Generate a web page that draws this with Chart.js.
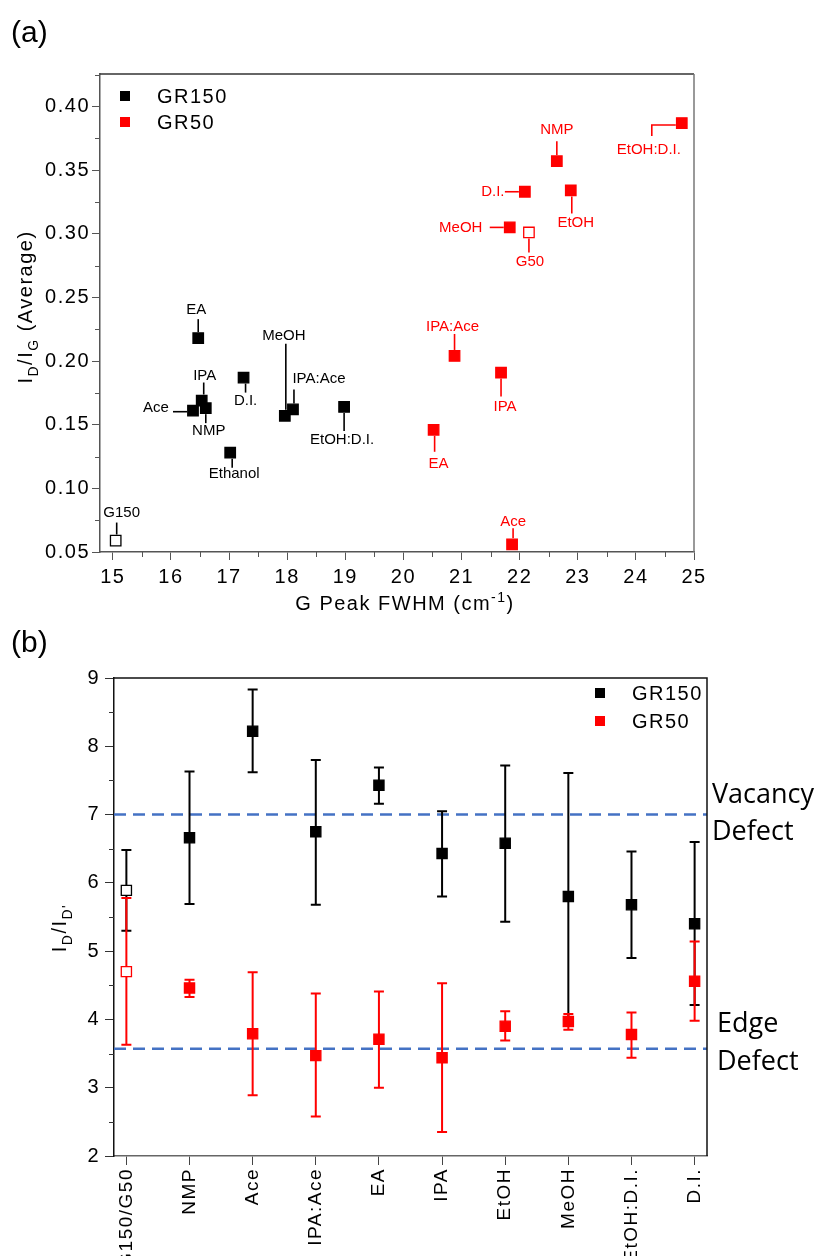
<!DOCTYPE html>
<html>
<head>
<meta charset="utf-8">
<script src="https://cdn.jsdelivr.net/npm/chart.js@4.4.1/dist/chart.umd.min.js"></script>
<style>
  body { margin: 0; background: #fff; width: 818px; height: 1256px; overflow: hidden; position: relative; }
  canvas { position: absolute; left: 0; }
  #chartA { top: 0; }
  #chartB { top: 625px; }
</style>
</head>
<body>
<canvas id="chartA" width="818" height="625"></canvas>
<canvas id="chartB" width="818" height="631"></canvas>
<script>
const FONT = 'Arial, "Liberation Sans", sans-serif';

// ---- (a) ID/IG vs G peak FWHM ----
const namesGR150 = ['G150', 'Ace', 'EA', 'IPA', 'NMP', 'D.I.', 'Ethanol', 'MeOH', 'IPA:Ace', 'EtOH:D.I.'];
const fwhmGR150  = [15.05, 16.38, 16.47, 16.53, 16.60, 17.25, 17.02, 17.96, 18.10, 18.98];
const idigGR150  = [0.059, 0.161, 0.218, 0.169, 0.163, 0.187, 0.128, 0.157, 0.162, 0.164];

const namesGR50 = ['G50', 'NMP', 'EtOH:D.I.', 'D.I.', 'EtOH', 'MeOH', 'IPA:Ace', 'IPA', 'EA', 'Ace'];
const fwhmGR50  = [22.16, 22.64, 24.79, 22.09, 22.88, 21.83, 20.88, 21.68, 20.52, 21.87];
const idigGR50  = [0.301, 0.357, 0.387, 0.333, 0.334, 0.305, 0.204, 0.191, 0.146, 0.056];

const xTicksA = [15, 16, 17, 18, 19, 20, 21, 22, 23, 24, 25];
const yTicksA = [0.05, 0.10, 0.15, 0.20, 0.25, 0.30, 0.35, 0.40];

// unfilled markers = pristine graphite references
const openSamples = ['G150', 'G50', 'G150/G50'];

// label placement relative to the marker (text centre, leader line points)
const textOffGR150 = [[6,-28],[-37,-3],[-2,-28],[3,-25],[3,23],[2,23],[4,21],[-1,-80],[26,-31],[-2,33]];
const leaderGR150 = [
  [[1,-6],[1,-18]], [[-6,1],[-20,1]], [[0,-6],[0,-19]], [[2,-6],[2,-18]], [[0,6],[0,15]],
  [[2,6],[2,15]], [[2,6],[2,15]], [[1,-6],[1,-72]], [[1,-6],[1,-20]], [[0,6],[0,24]]
];
const textOffGR50 = [[1,29],[0,-31],[-33,27],[-32,0],[5,32],[-49,0],[-2,-29],[4,34],[5,34],[1,-23]];
const leaderGR50 = [
  [[0,6],[0,20]], [[0,-6],[0,-20]], [[-6,2],[-30,2],[-30,13]], [[-6,0],[-20,0]], [[1,6],[1,23]],
  [[-6,0],[-20,0]], [[0,-6],[0,-22]], [[0,6],[0,24]], [[1,6],[1,22]], [[1,-6],[1,-16]]
];

// ---- (b) ID/ID' per solvent ----
const solvents  = ['G150/G50', 'NMP', 'Ace', 'IPA:Ace', 'EA', 'IPA', 'EtOH', 'MeOH', 'EtOH:D.I.', 'D.I.'];
const ratioB150 = [5.89, 6.66, 8.22, 6.75, 7.43, 6.43, 6.58, 5.80, 5.68, 5.40];
const hiB150    = [6.48, 7.63, 8.83, 7.80, 7.69, 7.05, 7.72, 7.61, 6.46, 6.60];
const loB150    = [5.30, 5.69, 7.62, 5.68, 7.16, 5.80, 5.43, 4.00, 4.90, 4.21];
const ratioB50  = [4.70, 4.46, 3.79, 3.47, 3.71, 3.44, 3.90, 3.97, 3.78, 4.56];
const hiB50     = [5.78, 4.58, 4.69, 4.38, 4.41, 4.53, 4.12, 4.08, 4.10, 5.14];
const loB50     = [3.63, 4.33, 2.89, 2.58, 3.00, 2.35, 3.69, 3.85, 3.44, 3.98];
const yTicksB   = [2, 3, 4, 5, 6, 7, 8, 9];
const vacancyLevel = 7.0;
const edgeLevel = 3.57;

const BLACK = '#000000', RED = '#ff0000', BLUE = '#4472c4';

function richText(ctx, parts, x, y, size, angle, spacing) {
  // parts: [text, 0 normal | 1 subscript | 2 superscript]
  const small = Math.round(size * 0.68);
  ctx.save();
  ctx.translate(x, y);
  ctx.rotate(angle);
  ctx.letterSpacing = spacing + 'px';
  ctx.textAlign = 'left';
  ctx.textBaseline = 'alphabetic';
  ctx.fillStyle = '#000';
  let total = 0;
  parts.forEach(p => { ctx.font = (p[1] ? small : size) + 'px ' + FONT; total += ctx.measureText(p[0]).width; });
  let cx = -total / 2;
  parts.forEach(p => {
    ctx.font = (p[1] ? small : size) + 'px ' + FONT;
    const dy = p[1] === 1 ? size * 0.3 : (p[1] === 2 ? -size * 0.42 : 0);
    ctx.fillText(p[0], cx, dy);
    cx += ctx.measureText(p[0]).width;
  });
  ctx.restore();
}

function minorTicks(ctx, scale, majors, len, color, horizontal) {
  ctx.save();
  ctx.strokeStyle = color;
  ctx.lineWidth = 1;
  for (let i = 0; i < majors.length; i++) {
    const step = i + 1 < majors.length ? majors[i + 1] - majors[i] : majors[i] - majors[i - 1];
    const v = majors[i] + step / 2;
    if (v > scale.max) continue;
    const p = Math.round(scale.getPixelForValue(v)) + 0.5;
    ctx.beginPath();
    if (horizontal) { ctx.moveTo(p, scale.top); ctx.lineTo(p, scale.top + len); }
    else { ctx.moveTo(scale.right, p); ctx.lineTo(scale.right - len, p); }
    ctx.stroke();
  }
  ctx.restore();
}

function legendItem(ctx, x, y, color, text) {
  ctx.fillStyle = color;
  ctx.fillRect(x - 5, y - 5, 10, 10);
  ctx.fillStyle = '#000';
  ctx.font = '20px ' + FONT;
  ctx.letterSpacing = '1.5px';
  ctx.textAlign = 'left';
  ctx.textBaseline = 'middle';
  ctx.fillText(text, x + 32, y + 1);
  ctx.letterSpacing = '0px';
}

function drawLabels(chart, dsIndex, names, textOff, leaders, color) {
  const ctx = chart.ctx;
  const meta = chart.getDatasetMeta(dsIndex);
  ctx.save();
  ctx.letterSpacing = '0px';
  ctx.font = '15px ' + FONT;
  ctx.textAlign = 'center';
  ctx.textBaseline = 'middle';
  ctx.fillStyle = color;
  ctx.strokeStyle = color;
  ctx.lineWidth = 1.6;
  meta.data.forEach((pt, i) => {
    ctx.beginPath();
    leaders[i].forEach((p, k) => {
      if (k === 0) ctx.moveTo(pt.x + p[0], pt.y + p[1]);
      else ctx.lineTo(pt.x + p[0], pt.y + p[1]);
    });
    ctx.stroke();
    ctx.fillText(names[i], pt.x + textOff[i][0], pt.y + textOff[i][1]);
  });
  ctx.restore();
}

function openFill(names, color) {
  return c => openSamples.includes(names[c.dataIndex]) ? '#ffffff' : color;
}

const spacingPlugin = {
  id: 'spacing',
  beforeDraw(chart) { chart.ctx.letterSpacing = '1.5px'; }
};

// ---------------- chart (a) ----------------
const decorA = {
  id: 'decorA',
  afterDraw(chart) {
    const ctx = chart.ctx;
    const a = chart.chartArea;
    const xs = chart.scales.x, ys = chart.scales.y;
    ctx.save();
    ctx.lineWidth = 1.5;
    ctx.strokeStyle = '#333';
    ctx.beginPath(); ctx.moveTo(a.left, a.top); ctx.lineTo(a.right, a.top); ctx.stroke();
    ctx.strokeStyle = '#777';
    ctx.beginPath(); ctx.moveTo(a.right, a.top); ctx.lineTo(a.right, a.bottom); ctx.stroke();
    ctx.restore();

    minorTicks(ctx, xs, xTicksA, 5, '#555', true);
    minorTicks(ctx, ys, yTicksA, 5, '#555', false);

    drawLabels(chart, 0, namesGR150, textOffGR150, leaderGR150, BLACK);
    drawLabels(chart, 1, namesGR50, textOffGR50, leaderGR50, RED);

    ctx.save();
    legendItem(ctx, a.left + 25, a.top + 22, BLACK, 'GR150');
    legendItem(ctx, a.left + 25, a.top + 48, RED, 'GR50');

    richText(ctx, [['G Peak FWHM (cm', 0], ['-1', 2], [')', 0]], 405, 610, 20, 0, 1.5);
    richText(ctx, [['I', 0], ['D', 1], ['/I', 0], ['G', 1], [' (Average)', 0]], 32, (a.top + a.bottom) / 2 - 6, 20, -Math.PI / 2, 1.5);

    ctx.letterSpacing = '0px';
    ctx.font = '30px ' + FONT;
    ctx.fillStyle = '#000';
    ctx.textAlign = 'left';
    ctx.textBaseline = 'alphabetic';
    ctx.fillText('(a)', 11, 42);
    ctx.restore();
  }
};

new Chart(document.getElementById('chartA'), {
  type: 'scatter',
  data: {
    datasets: [
      {
        label: 'GR150',
        data: fwhmGR150.map((x, i) => ({ x: x, y: idigGR150[i] })),
        pointStyle: 'rect',
        pointRadius: 7.4,
        pointHoverRadius: 7.4,
        pointBackgroundColor: openFill(namesGR150, BLACK),
        pointBorderColor: BLACK,
        pointBorderWidth: 1.3
      },
      {
        label: 'GR50',
        data: fwhmGR50.map((x, i) => ({ x: x, y: idigGR50[i] })),
        pointStyle: 'rect',
        pointRadius: 7.4,
        pointHoverRadius: 7.4,
        pointBackgroundColor: openFill(namesGR50, RED),
        pointBorderColor: RED,
        pointBorderWidth: 1.3
      }
    ]
  },
  options: {
    responsive: false,
    animation: false,
    devicePixelRatio: 1,
    layout: { padding: { left: 0, right: 124, top: 74, bottom: 0 } },
    plugins: { legend: { display: false }, tooltip: { enabled: false } },
    scales: {
      x: {
        type: 'linear',
        min: 14.78,
        max: 25,
        afterBuildTicks: s => { s.ticks = xTicksA.map(v => ({ value: v })); },
        afterFit: s => { s.height = 73; },
        ticks: { color: '#000', font: { family: FONT, size: 20 }, padding: 5, maxRotation: 0, autoSkip: false, callback: v => String(v) },
        grid: { drawOnChartArea: false, tickLength: 8, color: '#555', tickWidth: 1 },
        border: { color: '#555', width: 1.5 }
      },
      y: {
        type: 'linear',
        min: 0.05,
        max: 0.4255,
        afterBuildTicks: s => { s.ticks = yTicksA.map(v => ({ value: v })); },
        afterFit: s => { s.width = 100; },
        ticks: { color: '#000', font: { family: FONT, size: 20 }, padding: 2, autoSkip: false, callback: v => v.toFixed(2) },
        grid: { drawOnChartArea: false, tickLength: 8, color: '#555', tickWidth: 1 },
        border: { color: '#555', width: 1.5 }
      }
    }
  },
  plugins: [spacingPlugin, decorA]
});

// ---------------- chart (b) ----------------
function errorBars(chart, dsIndex, hi, lo, color) {
  const ctx = chart.ctx;
  const xs = chart.scales.x, ys = chart.scales.y;
  ctx.save();
  ctx.strokeStyle = color;
  ctx.lineWidth = 2;
  hi.forEach((h, i) => {
    const x = xs.getPixelForValue(i);
    const yh = ys.getPixelForValue(h), yl = ys.getPixelForValue(lo[i]);
    ctx.beginPath();
    ctx.moveTo(x, yh); ctx.lineTo(x, yl);
    ctx.moveTo(x - 5, yh); ctx.lineTo(x + 5, yh);
    ctx.moveTo(x - 5, yl); ctx.lineTo(x + 5, yl);
    ctx.stroke();
  });
  ctx.restore();
}

const decorB = {
  id: 'decorB',
  beforeDatasetsDraw(chart) {
    const ctx = chart.ctx;
    const a = chart.chartArea;
    const ys = chart.scales.y;
    ctx.save();
    ctx.strokeStyle = BLUE;
    ctx.lineWidth = 2.6;
    ctx.setLineDash([12, 7]);
    [vacancyLevel, edgeLevel].forEach(v => {
      const y = ys.getPixelForValue(v);
      ctx.beginPath(); ctx.moveTo(a.left, y); ctx.lineTo(a.right, y); ctx.stroke();
    });
    ctx.restore();
    errorBars(chart, 0, hiB150, loB150, BLACK);
    errorBars(chart, 1, hiB50, loB50, RED);
  },
  afterDraw(chart) {
    const ctx = chart.ctx;
    const a = chart.chartArea;
    const ys = chart.scales.y;
    ctx.save();
    ctx.lineWidth = 1.5;
    ctx.strokeStyle = '#111';
    ctx.beginPath();
    ctx.moveTo(a.left, a.top); ctx.lineTo(a.right, a.top); ctx.lineTo(a.right, a.bottom);
    ctx.stroke();
    ctx.restore();

    minorTicks(ctx, ys, yTicksB, 5, '#333', false);

    ctx.save();
    legendItem(ctx, a.right - 107, a.top + 15, BLACK, 'GR150');
    legendItem(ctx, a.right - 107, a.top + 43, RED, 'GR50');

    ctx.letterSpacing = '0px';
    ctx.font = '27px "Open Sans", sans-serif';
    ctx.fillStyle = '#000';
    ctx.textAlign = 'left';
    ctx.textBaseline = 'middle';
    const yv = ys.getPixelForValue(vacancyLevel);
    ctx.fillText('Vacancy', a.right + 5, yv - 19);
    ctx.fillText('Defect', a.right + 5, yv + 18);
    const ye = ys.getPixelForValue(edgeLevel);
    ctx.fillText('Edge', a.right + 10, ye - 24);
    ctx.fillText('Defect', a.right + 10, ye + 14);

    richText(ctx, [['I', 0], ['D', 1], ['/I', 0], ['D\'', 1]], 66, (a.top + a.bottom) / 2 + 11, 20, -Math.PI / 2, 1.5);

    ctx.letterSpacing = '0px';
    ctx.font = '30px ' + FONT;
    ctx.fillStyle = '#000';
    ctx.textAlign = 'left';
    ctx.textBaseline = 'alphabetic';
    ctx.fillText('(b)', 11, 27);
    ctx.restore();
  }
};

new Chart(document.getElementById('chartB'), {
  type: 'scatter',
  data: {
    datasets: [
      {
        label: 'GR150',
        data: ratioB150.map((v, i) => ({ x: i, y: v })),
        pointStyle: 'rect',
        pointRadius: 7.2,
        pointHoverRadius: 7.2,
        pointBackgroundColor: openFill(solvents, BLACK),
        pointBorderColor: BLACK,
        pointBorderWidth: 1.3
      },
      {
        label: 'GR50',
        data: ratioB50.map((v, i) => ({ x: i, y: v })),
        pointStyle: 'rect',
        pointRadius: 7.2,
        pointHoverRadius: 7.2,
        pointBackgroundColor: openFill(solvents, RED),
        pointBorderColor: RED,
        pointBorderWidth: 1.3
      }
    ]
  },
  options: {
    responsive: false,
    animation: false,
    devicePixelRatio: 1,
    layout: { padding: { left: 0, right: 111, top: 53, bottom: 0 } },
    plugins: { legend: { display: false }, tooltip: { enabled: false } },
    scales: {
      x: {
        type: 'linear',
        min: -0.196,
        max: 9.196,
        afterBuildTicks: s => { s.ticks = solvents.map((_, i) => ({ value: i })); },
        afterFit: s => { s.height = 100; },
        ticks: { color: '#000', font: { family: FONT, size: 19 }, padding: 3, minRotation: 90, maxRotation: 90, autoSkip: false, callback: v => solvents[v] },
        grid: { drawOnChartArea: false, tickLength: 9, color: '#444', tickWidth: 1 },
        border: { color: '#666', width: 1.5 }
      },
      y: {
        type: 'linear',
        min: 2,
        max: 9,
        afterBuildTicks: s => { s.ticks = yTicksB.map(v => ({ value: v })); },
        afterFit: s => { s.width = 114; },
        ticks: { color: '#000', font: { family: FONT, size: 20 }, padding: 5, autoSkip: false, callback: v => String(v) },
        grid: { drawOnChartArea: false, tickLength: 9, color: '#333', tickWidth: 1 },
        border: { color: '#111', width: 1.5 }
      }
    }
  },
  plugins: [spacingPlugin, decorB]
});
</script>
</body>
</html>
